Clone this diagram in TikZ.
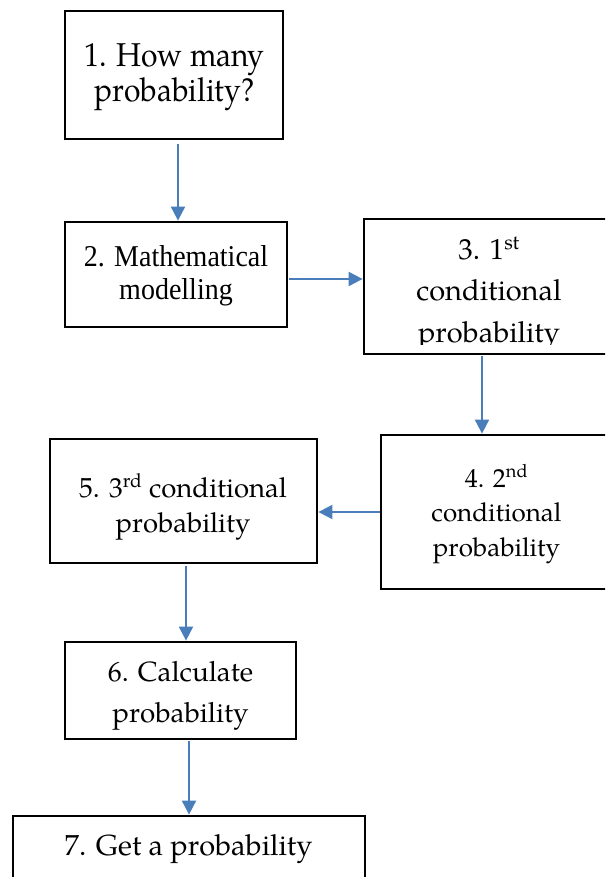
\documentclass[tikz,border=0pt]{standalone}
\usepackage{fontspec}
\setmainfont{TeX Gyre Pagella}
\newfontfamily\timesf{Liberation Serif}
\usetikzlibrary{arrows.meta}
\definecolor{arrowblue}{RGB}{74,126,187}
\newcommand{\boxtext}[1]{\begin{tabular}[t]{@{}c@{}}#1\end{tabular}}
\tikzset{
  stepbox/.style={draw=black, line width=2.8pt, rectangle, inner sep=0pt, fill=none},
  txt/.style={inner sep=0pt, anchor=base, text=black},
  arr/.style={draw=arrowblue, line width=2pt, -{Triangle[width=14pt,length=14pt]}},
}
\begin{document}
\begin{tikzpicture}[x=1pt,y=-1pt]
\clip (0,0) rectangle (605,877);
\fill[white] (0,0) rectangle (605,877);
% boxes
\node[stepbox, minimum width=218pt, minimum height=128pt] (n1) at (174,75) {};
\node[stepbox, minimum width=222pt, minimum height=105pt] (n2) at (176,274.5) {};
\node[stepbox, minimum width=250pt, minimum height=135pt] (n3) at (489,286.5) {};
\node[stepbox, minimum width=231pt, minimum height=154pt] (n4) at (496.5,512) {};
\node[stepbox, minimum width=267pt, minimum height=124pt] (n5) at (183.5,501) {};
\node[stepbox, minimum width=231pt, minimum height=97pt] (n6) at (180.5,690.5) {};
\node[stepbox, minimum width=352pt, minimum height=84pt] (n7) at (189,858) {};
% texts
\node[txt, font=\fontsize{30}{31.8}\selectfont] (t1) at (174.5,67) {\scalebox{1}[1.1]{\boxtext{1. How many\\probability?}}};
\node[txt, font=\timesf\fontsize{28}{30.6}\selectfont] (t2) at (176,266) {\scalebox{1}[1.08]{\boxtext{2. Mathematical\\modelling}}};
\begin{scope}
\clip (364,219) rectangle (614,344);
\node[txt, font=\fontsize{29}{41.5}\selectfont] (t3) at (489,259) {\boxtext{3. 1\textsuperscript{st}\\conditional\\probability}};
\end{scope}
\node[txt, font=\fontsize{26}{34.5}\selectfont] (t4) at (496.5,487) {\boxtext{4. 2\textsuperscript{nd}\\conditional\\probability}};
\node[txt, font=\fontsize{27.5}{35}\selectfont] (t5) at (183,497) {\boxtext{5. 3\textsuperscript{rd} conditional\\probability}};
\node[txt, font=\fontsize{27.8}{41}\selectfont] (t6) at (180.5,681) {\boxtext{6. Calculate\\probability}};
\node[txt, font=\fontsize{29}{35}\selectfont] (t7) at (188.5,855) {\boxtext{7. Get a probability}};
% arrows
\draw[arr] ([xshift=4pt,yshift=-4pt]n1.south) -- ([xshift=2pt]n2.north);
\draw[arr] ([xshift=1pt,yshift=-4.5pt]n2.east) -- ([yshift=7.5pt]n3.west);
\draw[arr] ([xshift=-7pt,yshift=-1pt]n3.south) -- ([xshift=-14.5pt]n4.north);
\draw[arr] (n4.west) -- ([yshift=-11pt]n5.east);
\draw[arr] ([xshift=2.5pt,yshift=-2pt]n5.south) -- ([xshift=5.5pt]n6.north);
\draw[arr] ([xshift=8.5pt,yshift=-1pt]n6.south) -- (n7.north);
\end{tikzpicture}
\end{document}
